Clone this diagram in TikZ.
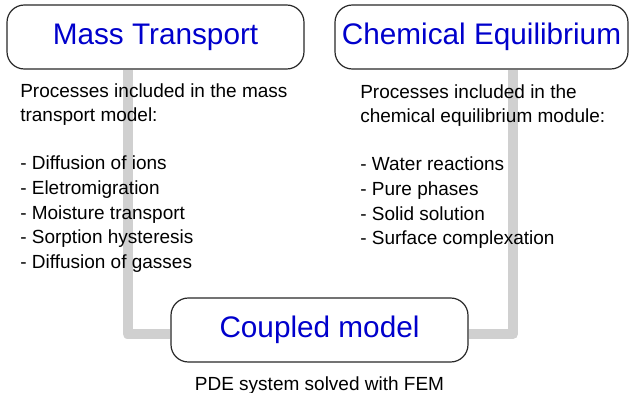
\documentclass[tikz,border=0pt]{standalone}
\usepackage{fontspec}
\setmainfont{Liberation Sans}
\usetikzlibrary{backgrounds}
\definecolor{titleblue}{RGB}{0,0,204}
\definecolor{linkgray}{RGB}{208,208,208}
\definecolor{boxline}{RGB}{40,40,40}
\tikzset{
  modelbox/.style={draw=boxline, line width=0.9pt, fill=white, rounded corners=13pt,
    minimum width=222.75pt, minimum height=48pt, inner sep=0pt,
    font=\fontsize{22.3}{26}\selectfont, text=titleblue},
  listtext/.style={anchor=north west, inner sep=0pt, align=left,
    font=\fontsize{14.25}{18.5}\selectfont},
  link/.style={draw=linkgray, line width=7.5pt, line join=round},
}
\begin{document}
\begin{tikzpicture}[x=0.75pt,y=-0.75pt]
  \useasboundingbox (0,0) rectangle (629,393);
  % the three models
  \node[modelbox] (mt) at (155.5,37) {Mass Transport};
  \node[modelbox, minimum width=219.75pt] (ce) at (481.5,37) {Chemical Equilibrium};
  \node[modelbox] (cm) at (319.5,330) {Coupled model};
  % processes in each model
  \node[listtext] (mtlist) at (20,83) {Processes included in the mass\\transport model:\\[17.5pt]- Diffusion of ions\\- Eletromigration\\- Moisture transport\\- Sorption hysteresis\\- Diffusion of gasses};
  \node[listtext] (celist) at (360,84) {Processes included in the\\chemical equilibrium module:\\[17.5pt]- Water reactions\\- Pure phases\\- Solid solution\\- Surface complexation};
  \node[anchor=base, inner sep=0pt, font=\fontsize{14.25}{18.5}\selectfont] (pde) at (319.5,390) {PDE system solved with FEM};
  % links into the coupled model
  \begin{scope}[on background layer]
    \draw[link] (mt.south) ++(-28,0) |- ([yshift=-3pt]cm.west);
    \draw[link] (ce.south) ++(31.5,0) |- ([yshift=-3pt]cm.east);
  \end{scope}
\end{tikzpicture}
\end{document}
